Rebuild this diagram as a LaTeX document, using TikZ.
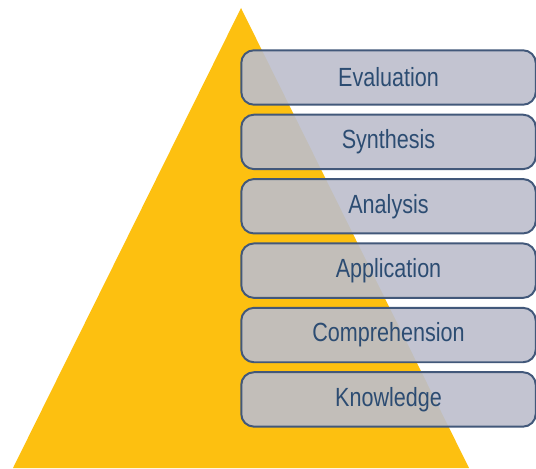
\documentclass[tikz,border=0pt]{standalone}
\usepackage{fontspec}
\setmainfont[FakeStretch=0.82]{Liberation Sans}
\usepackage{tikz}
\usetikzlibrary{positioning}

\definecolor{pyryellow}{RGB}{253,192,16}
\definecolor{levelfill}{RGB}{188,190,204}
\definecolor{levelline}{RGB}{66,88,122}
\definecolor{leveltext}{RGB}{44,76,114}

\tikzset{
 level/.style={draw=levelline, line width=1.4pt, rounded corners=9pt,
   fill=levelfill, fill opacity=0.9, text opacity=1, text=leveltext,
   minimum width=7.36cm, minimum height=1.36cm, font=\fontsize{18.7}{22}\selectfont},
}

\begin{document}
\begin{tikzpicture}[x=0.025cm, y=0.025cm, node distance=0.2cm]
\useasboundingbox (0,0) rectangle (536,468);
% pyramid
\coordinate (top) at (241,460);
\coordinate (bl) at (13,0);
\coordinate (br) at (469,0);
\fill[pyryellow] (bl) -- (top) -- (br) -- cycle;
% levels
\node[level] (eval) at (388.5,390.5) {Evaluation};
\node[level, below=of eval] (synth) {Synthesis};
\node[level, below=of synth] (anal) {Analysis};
\node[level, below=of anal] (appl) {Application};
\node[level, below=of appl] (comp) {Comprehension};
\node[level, below=of comp] (know) {Knowledge};
\end{tikzpicture}
\end{document}
